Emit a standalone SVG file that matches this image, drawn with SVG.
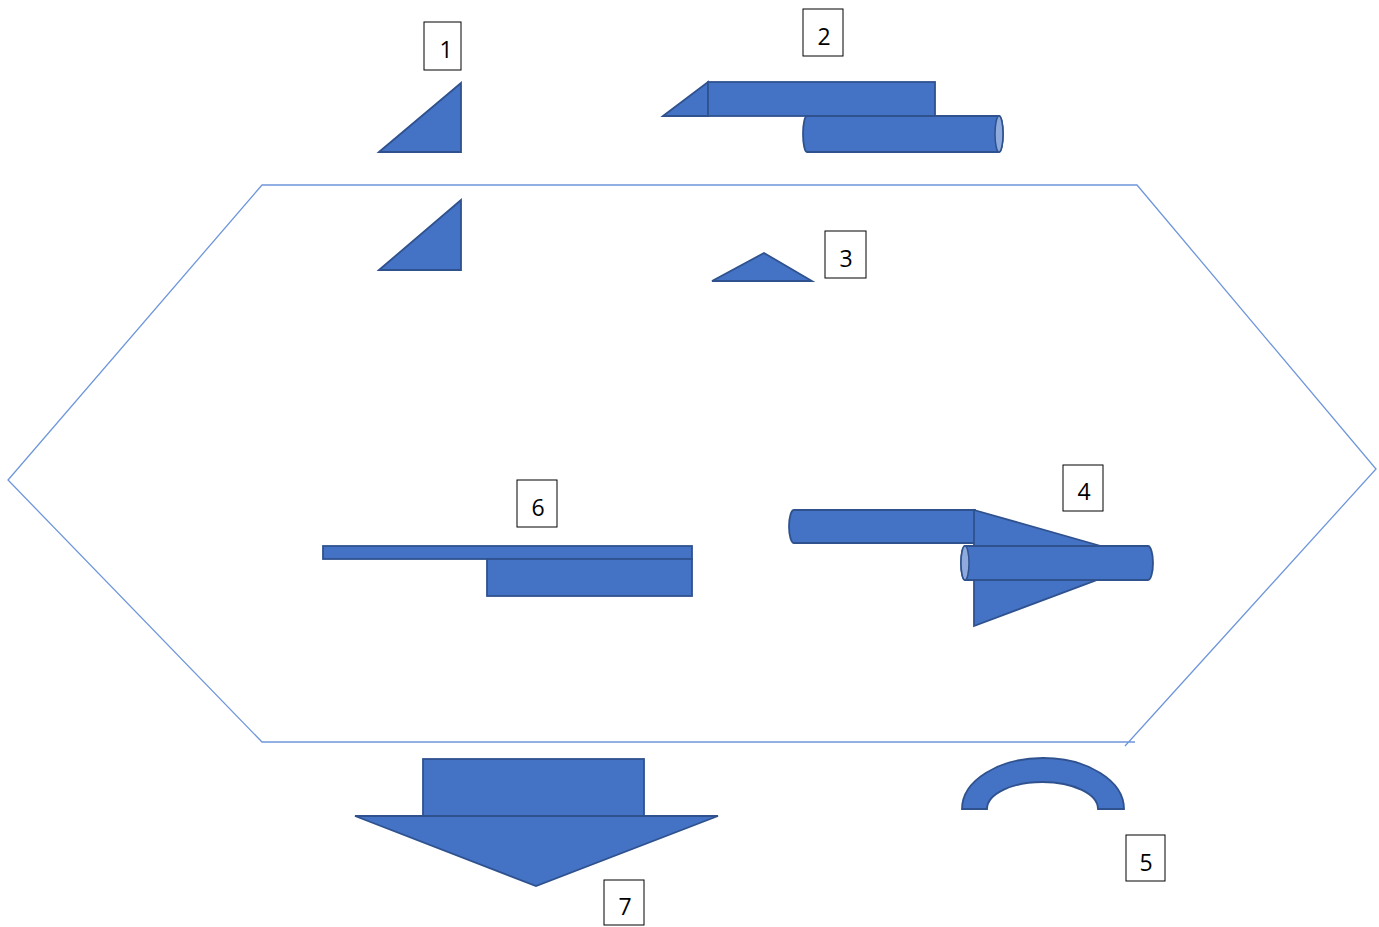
<svg xmlns="http://www.w3.org/2000/svg" width="1379" height="927" viewBox="0 0 1379 927">
<style>
.s{fill:#4472C4;stroke:#2F528F;stroke-width:1.8;stroke-linejoin:miter}
.cap{fill:#8FAADC;stroke:#2F528F;stroke-width:1.5}
.hex{fill:none;stroke:#6F96DC;stroke-width:1.3}
.lb{fill:#fff;stroke:#000;stroke-width:1}
.t{font-family:"Open Sans","Liberation Sans",sans-serif;font-size:23px;fill:#000;text-anchor:middle;dominant-baseline:central}
</style>
<rect width="1379" height="927" fill="#fff"/>
<g id="hexagon">
<polyline class="hex" points="1125,746 1376,469 1137,185 262,185 8,480 262,742 1135,742"/>
</g>
<g id="shape1">
<polygon class="s" points="379,152 461,83 461,152"/>
<polygon class="s" points="379,270 461,200 461,270"/>
<rect class="lb" x="424" y="22" width="37" height="48"/>
<text class="t" x="446" y="49">1</text>
</g>
<g id="shape2">
<polygon class="s" points="663,116 708,82 708,116"/>
<rect class="s" x="708" y="82" width="227" height="34"/>
<path class="s" d="M807,116 L999,116 A4,18 0 0 1 999,152 L807,152 A4,18 0 0 1 807,116 Z"/>
<ellipse class="cap" cx="999" cy="134" rx="4" ry="18"/>
<rect class="lb" x="803" y="9" width="40" height="47"/>
<text class="t" x="824" y="36">2</text>
</g>
<g id="shape3">
<polygon class="s" points="712,281 764,253 812,281"/>
<rect class="lb" x="825" y="231" width="41" height="47"/>
<text class="t" x="846" y="258">3</text>
</g>
<g id="shape4">
<path class="s" d="M794,510 L975,510 L975,543 L794,543 A5,16.5 0 0 1 794,510 Z"/>
<polygon class="s" points="974,510 1150,560 974,626"/>
<path class="s" d="M965,546 L1148,546 A5,17 0 0 1 1148,580 L965,580 A4,17 0 0 1 965,546 Z"/>
<ellipse class="cap" cx="965" cy="563" rx="4" ry="17"/>
<rect class="lb" x="1063" y="465" width="40" height="46"/>
<text class="t" x="1084" y="491">4</text>
</g>
<g id="shape5">
<path class="s" d="M962,809 A81,51 0 0 1 1124,809 L1098,809 A55.5,27 0 0 0 987,809 Z" stroke="none"/>
<rect class="lb" x="1126" y="835" width="39" height="46"/>
<text class="t" x="1146" y="862">5</text>
</g>
<g id="shape6">
<rect class="s" x="323" y="546" width="369" height="13"/>
<rect class="s" x="487" y="559" width="205" height="37"/>
<rect class="lb" x="517" y="480" width="40" height="47"/>
<text class="t" x="538" y="507">6</text>
</g>
<g id="shape7">
<rect class="s" x="423" y="759" width="221" height="57"/>
<polygon class="s" points="355,816 718,816 536,886"/>
<rect class="lb" x="604" y="880" width="40" height="45"/>
<text class="t" x="625" y="906">7</text>
</g>
<g id="connectors"></g>
</svg>
